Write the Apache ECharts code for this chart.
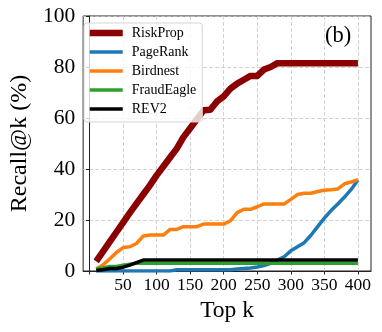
<!DOCTYPE html>
<html>
<head>
<meta charset="utf-8">
<script src="https://cdn.jsdelivr.net/npm/echarts@6/dist/echarts.min.js"></script>
<style>
html,body{margin:0;padding:0;background:#fff;}
#chart{width:382px;height:332px;}
</style>
</head>
<body>
<div id="chart"></div>
<script>
// Top k values (x)
const topK = [10,20,30,40,50,60,70,80,90,100,110,120,130,140,150,160,170,180,190,200,
              210,220,230,240,250,260,270,280,290,300,310,320,330,340,350,360,370,380,390,400];

// Recall@k (%) per method
const riskProp = [3.8,7.6,11.4,15.2,19.0,22.8,26.4,30.0,33.6,37.5,41.0,44.5,48.0,52.5,56.0,59.5,63.0,63.2,66.5,68.5,
                  71.5,73.5,75.0,76.5,76.5,79.0,80.0,81.5,81.5,81.5,81.5,81.5,81.5,81.5,81.5,81.5,81.5,81.5,81.5,81.5];
const pageRank = [0,0,0,0,0,0,0,0,0,0,0,0,0.5,0.5,0.5,0.5,0.5,0.5,0.5,0.5,
                  0.5,0.8,1.0,1.2,1.6,2.1,3.0,4.3,5.6,7.9,9.5,11.1,14.0,17.4,20.7,23.7,26.3,29.0,32.0,35.7];
const birdnest = [0.8,2.4,4.7,7.2,9.2,9.5,10.8,13.7,14.1,14.1,14.1,16.3,16.3,17.4,17.4,17.4,18.4,18.4,18.4,18.4,
                  19.7,22.9,24.2,24.2,25.2,26.3,26.3,26.3,26.3,28.1,30.0,30.5,30.5,31.2,31.7,31.9,32.2,34.2,34.9,35.8];
const fraudEagle = [0.8,1.2,1.8,1.8,2.3,2.7,3.0,3.0,3.0,3.0,3.0,3.0,3.0,3.0,3.0,3.0,3.0,3.0,3.0,3.0,
                    3.0,3.0,3.0,3.0,3.0,3.0,3.0,3.0,3.0,3.0,3.0,3.0,3.0,3.0,3.0,3.0,3.0,3.0,3.0,3.0];
const rev2 = [0.2,0.5,1.0,1.0,1.5,2.3,3.3,4.3,4.3,4.3,4.3,4.3,4.3,4.3,4.3,4.3,4.3,4.3,4.3,4.3,
              4.3,4.3,4.3,4.3,4.3,4.3,4.3,4.3,4.3,4.3,4.3,4.3,4.3,4.3,4.3,4.3,4.3,4.3,4.3,4.3];

const seriesNames = ['RiskProp','PageRank','Birdnest','FraudEagle','REV2'];
const xTickValues = [0,50,100,150,200,250,300,350,400];
const xLabelValues = [50,100,150,200,250,300,350,400];
const panelLabel = '(b)';

const FONT = "'Liberation Serif','DejaVu Serif',serif";
const colors = ['#8b0000','#1f77b4','#ff7f0e','#2ca02c','#000000'];
const widths = [6.5,3.5,3.5,3.5,3.5];
const allData = [riskProp,pageRank,birdnest,fraudEagle,rev2];

const chart = echarts.init(document.getElementById('chart'), null, {renderer:'canvas'});
const gridLine = {show:true, lineStyle:{color:'#c8c8c8', type:[4,2], width:0.8}};

chart.setOption({
  animation:false,
  backgroundColor:'#fff',
  title:{text:panelLabel, left:325, top:25, padding:0,
         textStyle:{fontFamily:FONT, fontSize:22.5, fontWeight:'normal', color:'#000'}},
  grid:{left:77, right:11, top:16, bottom:61, show:true, borderColor:'#222', borderWidth:1, backgroundColor:'transparent'},
  legend:{
    orient:'vertical', left:84, top:23,
    padding:[3,6,6,2.5],
    itemWidth:33, itemHeight:14, itemGap:5,
    backgroundColor:'rgba(255,255,255,0.8)', borderColor:'#d5d5d5', borderWidth:1, borderRadius:3,
    textStyle:{fontFamily:FONT, fontSize:14, color:'#000', lineHeight:14, padding:[0,0,0,4]},
    data: seriesNames.map((n,i)=>({name:n, lineStyle:{width:widths[i], color:colors[i]}, itemStyle:{opacity:0}}))
  },
  xAxis:{
    type:'value', min:-9.5, max:419.5,
    name:'Top k', nameLocation:'middle', nameGap:25,
    nameTextStyle:{fontFamily:FONT, fontSize:23.5, color:'#000'},
    axisLine:{show:true, lineStyle:{color:'#222', width:1}},
    axisTick:{show:true, inside:false, length:3.5, customValues:xTickValues, lineStyle:{color:'#222'}},
    axisLabel:{customValues:xLabelValues, fontFamily:FONT, fontSize:17.5, color:'#000', margin:5},
    splitLine:gridLine
  },
  yAxis:{
    type:'value', min:0, max:100, interval:20,
    name:'Recall@k (%)', nameLocation:'middle', nameGap:44,
    nameTextStyle:{fontFamily:FONT, fontSize:24, color:'#000'},
    axisLine:{show:true, lineStyle:{color:'#222', width:1}},
    axisTick:{show:true, inside:false, length:3.5, lineStyle:{color:'#222'}},
    axisLabel:{fontFamily:FONT, fontSize:21.5, color:'#000', margin:8},
    splitLine:gridLine
  },
  series: seriesNames.map((n,i)=>({
    name:n, type:'line', symbol:'none', showSymbol:false,
    data: topK.map((k,j)=>[k, allData[i][j]]),
    lineStyle:{color:colors[i], width:widths[i], join:'round'},
    itemStyle:{color:colors[i]},
    z:2+i
  }))
});
</script>
</body>
</html>
